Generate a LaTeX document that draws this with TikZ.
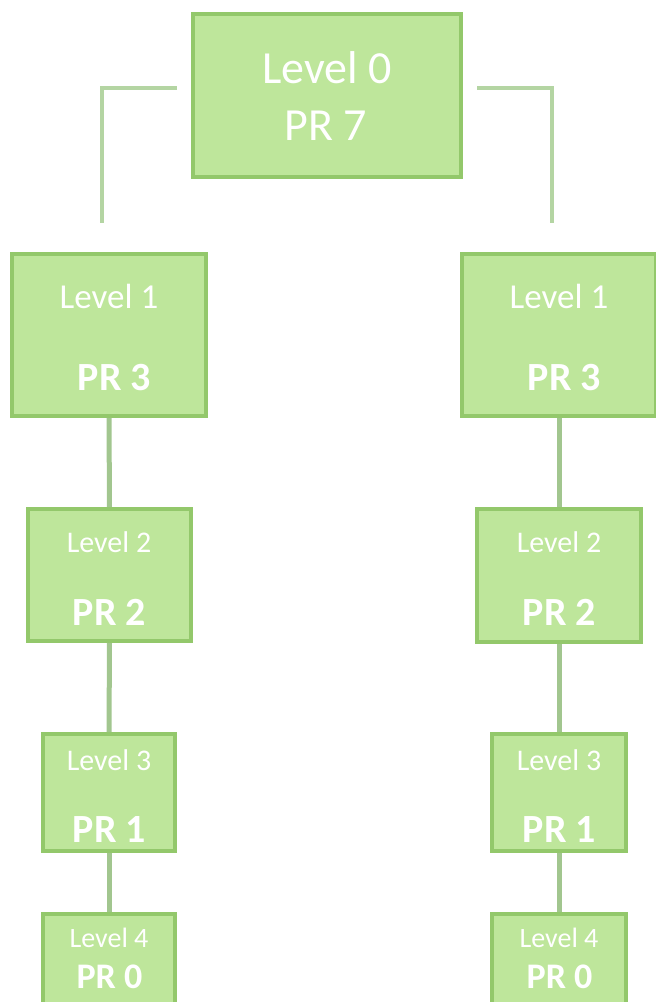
\documentclass[tikz,border=0pt]{standalone}
\usepackage{fontspec}
\setmainfont{Carlito}
\definecolor{boxfill}{HTML}{BEE69B}
\definecolor{boxline}{HTML}{93C86B}
\definecolor{wirecol}{HTML}{A2C68F}
\definecolor{topwirecol}{HTML}{B4D5A3}
\begin{document}
\begin{tikzpicture}[x=1pt,y=-1pt,
  box/.style={draw=boxline, fill=boxfill, line width=4pt, inner sep=0pt},
  wire/.style={draw=wirecol, line width=5pt},
  topwire/.style={draw=topwirecol, line width=4pt},
  lbl/.style={text=white, inner sep=0pt, anchor=base}]
\useasboundingbox (0,0) rectangle (656,1002);
\clip (0,0) rectangle (656,1002);

% level boxes (sizes are path sizes, the stroke adds 4)
\node[box, minimum width=268, minimum height=163] (L0) at (327,95.5) {};
\node[box, minimum width=194, minimum height=162] (L1a) at (109,335) {};
\node[box, minimum width=194, minimum height=162] (L1b) at (559,335) {};
\node[box, minimum width=163, minimum height=132] (L2a) at (109.5,575) {};
\node[box, minimum width=164, minimum height=133] (L2b) at (559,575.5) {};
\node[box, minimum width=132, minimum height=117] (L3a) at (109,792.5) {};
\node[box, minimum width=134, minimum height=117] (L3b) at (559,792.5) {};
\node[box, minimum width=132, minimum height=104] (L4a) at (109,966) {};
\node[box, minimum width=134, minimum height=104] (L4b) at (559,966) {};

% connectors
\draw[topwire] ([xshift=-14pt,yshift=7.5pt]L0.west) -| ([xshift=-7pt,yshift=29pt]L1a.north);
\draw[topwire] ([xshift=14pt,yshift=7.5pt]L0.east) -| ([xshift=-7pt,yshift=29pt]L1b.north);
\draw[wire] (L1a.south) -- (L2a.north);
\draw[wire] (L2a.south) -- (L3a.north);
\draw[wire] (L3a.south) -- (L4a.north);
\draw[wire] (L1b.south) -- (L2b.north);
\draw[wire] (L2b.south) -- (L3b.north);
\draw[wire] (L3b.south) -- (L4b.north);

% labels
\node[lbl, font=\fontsize{46}{50}\selectfont] (t0a) at (327,83) {Level 0};
\node[lbl, font=\fontsize{46}{50}\selectfont] (t0b) at (326,140) {PR 7};

\node[lbl, font=\fontsize{35}{40}\selectfont] (t1a) at (109,308) {Level 1};
\node[lbl, font=\fontsize{40}{44}\selectfont\bfseries] (t1b) at (114.5,390) {PR 3};
\node[lbl, font=\fontsize{35}{40}\selectfont] (t1c) at (559,308) {Level 1};
\node[lbl, font=\fontsize{40}{44}\selectfont\bfseries] (t1d) at (564.5,390) {PR 3};

\node[lbl, font=\fontsize{30}{34}\selectfont] (t2a) at (109,552) {Level 2};
\node[lbl, font=\fontsize{40}{44}\selectfont\bfseries] (t2b) at (109.5,625) {PR 2};
\node[lbl, font=\fontsize{30}{34}\selectfont] (t2c) at (559,552) {Level 2};
\node[lbl, font=\fontsize{40}{44}\selectfont\bfseries] (t2d) at (559.5,625) {PR 2};

\node[lbl, font=\fontsize{30}{34}\selectfont] (t3a) at (109,770) {Level 3};
\node[lbl, font=\fontsize{40}{44}\selectfont\bfseries] (t3b) at (109.5,842) {PR 1};
\node[lbl, font=\fontsize{30}{34}\selectfont] (t3c) at (559,770) {Level 3};
\node[lbl, font=\fontsize{40}{44}\selectfont\bfseries] (t3d) at (559.5,842) {PR 1};

\node[lbl, font=\fontsize{28}{32}\selectfont] (t4a) at (109,947) {Level 4};
\node[lbl, font=\fontsize{36}{40}\selectfont\bfseries] (t4b) at (109.5,988) {PR 0};
\node[lbl, font=\fontsize{28}{32}\selectfont] (t4c) at (559,947) {Level 4};
\node[lbl, font=\fontsize{36}{40}\selectfont\bfseries] (t4d) at (559.5,988) {PR 0};
\end{tikzpicture}
\end{document}
